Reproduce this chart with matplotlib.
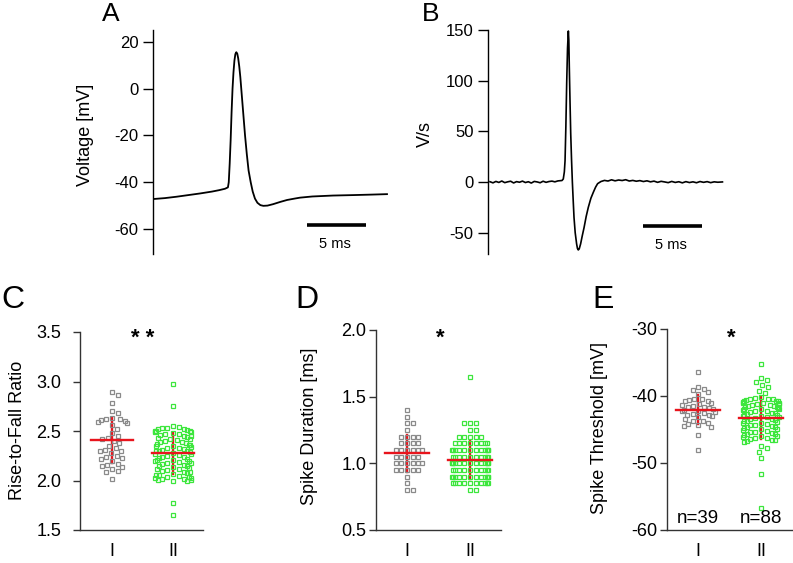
import numpy as np
import matplotlib
matplotlib.use("Agg")
import matplotlib.pyplot as plt

plt.rcParams['font.family'] = ['Liberation Sans', 'DejaVu Sans']
plt.rcParams['axes.unicode_minus'] = False

# panel A: membrane voltage trace (time in ms, voltage in mV)
a_time = [0.0, 1.0, 2.0, 3.0, 4.0, 5.0, 5.6, 6.1, 6.35, 6.42, 6.5, 6.58, 6.66, 6.74,
          6.82, 6.9, 6.98, 7.06, 7.14, 7.22, 7.31, 7.4, 7.48, 7.64, 7.8, 7.95, 8.1,
          8.28, 8.45, 8.64, 8.85, 9.1, 9.35, 9.7, 10.17, 10.8, 11.36, 12.0, 12.46,
          13.5, 15.25, 17.0, 18.5, 19.83]
a_volt = [-47.2, -46.8, -46.2, -45.5, -44.8, -44.0, -43.4, -42.8, -42.2, -40.0, -32.0,
          -22.0, -10.0, 0.0, 7.0, 12.0, 14.8, 15.6, 15.0, 13.0, 9.5, 5.0, 0.0, -10.0,
          -20.0, -28.0, -35.0, -40.0, -44.0, -47.0, -48.8, -49.8, -50.1, -50.0, -49.4,
          -48.4, -47.6, -47.0, -46.6, -46.1, -45.7, -45.5, -45.3, -45.1]

# panel B: dV/dt trace (time in ms, V/s)
b_time = [0.0, 0.25, 0.5, 0.75, 1.0, 1.25, 1.5, 1.75, 2.0, 2.25, 2.5, 2.75, 3.0, 3.25,
          3.5, 3.75, 4.0, 4.25, 4.5, 4.75, 5.0, 5.25, 5.5, 5.75, 6.0, 6.1, 6.21, 6.3,
          6.36, 6.43, 6.5, 6.57, 6.64, 6.68, 6.72, 6.78, 6.84, 6.91, 6.98, 7.05, 7.12,
          7.22, 7.34, 7.41, 7.48, 7.56, 7.68, 7.82, 7.97, 8.15, 8.33, 8.55, 8.76, 8.95,
          9.12, 9.4, 9.7, 10.0, 10.3, 10.6, 10.9, 11.2, 11.5, 11.8, 12.1, 12.4, 12.7,
          13.0, 13.3, 13.6, 13.9, 14.2, 14.5, 14.8, 15.1, 15.4, 15.7, 16.0, 16.3, 16.6,
          16.9, 17.2, 17.5, 17.8, 18.1, 18.4, 18.7, 19.0, 19.3, 19.7]
b_dvdt = [0.3, -0.8, 0.6, -0.4, 1.0, -0.6, 0.2, 0.8, -0.9, 0.4, -0.2, 0.9, -0.5, 0.3,
          -1.0, 0.6, 0.1, -0.7, 0.8, -0.3, 0.5, 0.9, 0.2, 1.1, 1.4, 1.5, 3.0, 10.0,
          21.0, 55.0, 98.0, 132.0, 149.0, 140.0, 114.0, 80.0, 48.0, 22.0, 0.0, -18.0,
          -35.0, -50.0, -61.0, -65.5, -67.0, -66.0, -61.0, -53.0, -45.0, -34.0, -25.0,
          -16.0, -10.0, -5.0, -1.6, 0.5, 1.6, 1.0, 2.2, 1.2, 2.0, 1.5, 2.3, 1.0, 1.6,
          0.8, 1.4, 0.5, 1.2, 0.2, 0.9, -0.3, 0.7, 0.1, -0.6, 0.6, -0.4, 0.3, -0.8, 0.4,
          -0.5, 0.2, -0.7, 0.5, -0.3, 0.4, -0.6, 0.2, -0.2, 0.1]

groups = ['I', 'II']

# panel C: rise-to-fall ratio
c_type1 = [2.89, 2.86, 2.78, 2.70, 2.68, 2.63, 2.62, 2.62, 2.61, 2.60, 2.59, 2.58, 2.56,
           2.52, 2.48, 2.45, 2.43, 2.42, 2.40, 2.38, 2.35, 2.33, 2.31, 2.30, 2.30, 2.28,
           2.25, 2.24, 2.23, 2.22, 2.20, 2.17, 2.16, 2.15, 2.14, 2.12, 2.10, 2.09, 2.02]
c_type2 = [2.97, 2.75, 1.77, 1.65,
           2.55, 2.54, 2.53, 2.53, 2.52, 2.52, 2.51, 2.50, 2.50,
           2.49, 2.49, 2.48, 2.47, 2.47, 2.46, 2.45, 2.45, 2.44, 2.43,
           2.42, 2.42, 2.41, 2.40, 2.39, 2.39, 2.38, 2.37, 2.36, 2.36,
           2.35, 2.34, 2.33, 2.33, 2.32, 2.31, 2.30, 2.30, 2.29, 2.28,
           2.27, 2.27, 2.26, 2.25, 2.24, 2.24, 2.23, 2.22, 2.21, 2.21,
           2.20, 2.19, 2.18, 2.18, 2.17, 2.16, 2.15, 2.15, 2.14, 2.13,
           2.12, 2.12, 2.11, 2.10, 2.09, 2.09, 2.08, 2.07, 2.06, 2.06,
           2.05, 2.04, 2.03, 2.03, 2.02, 2.02, 2.01, 2.01, 2.00, 2.00,
           2.04, 2.20, 2.35, 2.50, 2.30]

# panel D: spike duration (binned at 0.05 ms), value -> count
d_bins1 = {1.40: 1, 1.35: 1, 1.30: 2, 1.25: 1, 1.20: 4, 1.15: 4, 1.10: 6, 1.05: 5,
           1.00: 6, 0.95: 5, 0.90: 1, 0.85: 1, 0.80: 2}
d_bins2 = {1.65: 1, 1.30: 3, 1.25: 2, 1.20: 5, 1.15: 8, 1.10: 12, 1.05: 10, 1.00: 13,
           0.95: 10, 0.90: 12, 0.85: 10, 0.80: 2}
d_type1 = [v for v, n in d_bins1.items() for _ in range(n)]
d_type2 = [v for v, n in d_bins2.items() for _ in range(n)]

# panel E: spike threshold
e_type1 = [-36.4, -38.6, -38.9, -39.1, -39.4, -39.7, -40.4, -40.5, -40.6, -40.7, -40.8,
           -41.0, -41.2, -41.3, -41.5, -41.6, -41.7, -41.8, -42.0, -42.1, -42.2, -42.3,
           -42.4, -42.6, -42.7, -42.8, -42.9, -43.0, -43.2, -43.5, -43.7, -43.8, -44.0,
           -44.2, -44.3, -44.5, -44.6, -45.8, -48.0]
e_type2 = [-35.2, -37.3, -37.6, -37.9, -38.3, -38.6, -39.2, -39.5,
           -47.4, -47.8, -48.3, -49.3, -51.7, -56.7,
           -40.2, -40.3, -40.4, -40.4, -40.5, -40.6, -40.7, -40.7, -40.8, -40.9,
           -41.0, -41.1, -41.2, -41.2, -41.3, -41.4, -41.5, -41.5, -41.6, -41.7,
           -41.8, -41.9, -42.0, -42.0, -42.1, -42.2, -42.3, -42.4, -42.5, -42.6,
           -42.7, -42.8, -42.9, -43.0, -43.1, -43.2, -43.3, -43.4, -43.5, -43.6,
           -43.7, -43.8, -43.9, -44.0, -44.1, -44.2, -44.3, -44.4, -44.5, -44.6,
           -44.7, -44.8, -44.9, -45.0, -45.1, -45.2, -45.3, -45.4, -45.5, -45.6,
           -45.7, -45.8, -45.9, -46.0, -46.1, -46.2, -46.3, -46.4, -46.5, -46.6,
           -46.7, -46.8, -41.0, -43.0]
n_labels = ['n=39', 'n=88']

W, H = 793, 563
GRAY = '#8a8a8a'
GREEN = '#3ce63c'
RED = '#e8141c'
AXC = '#333333'

fig = plt.figure(figsize=(W / 100, H / 100), dpi=100)


def px_axes(l, t, r, b):
    return fig.add_axes([l / W, 1 - b / H, (r - l) / W, (b - t) / H])


def ftext(x, y, s, **kw):
    fig.text(x / W, 1 - y / H, s, **kw)


def swarm(vals, unit_px, d=6.5, half=19.0):
    # simple beeswarm in pixel space, offsets squashed to a max half width
    y = np.asarray(vals, float) * unit_px
    xs = np.zeros(len(y))
    done = []
    for i in np.argsort(-y, kind='stable'):
        cands = [0.0]
        for j in done:
            dy = y[i] - y[j]
            if abs(dy) < d:
                dx = np.sqrt(d * d - dy * dy)
                cands += [xs[j] + dx, xs[j] - dx]
        cands.sort(key=abs)
        for c in cands:
            if all((c - xs[j]) ** 2 + (y[i] - y[j]) ** 2 >= d * d - 1e-6 for j in done):
                xs[i] = c
                break
        done.append(i)
    return half * np.tanh(xs / half)


# ---- A ----
axA = px_axes(153, 30, 392, 254)
axA.plot(a_time, a_volt, color='black', lw=1.3)
axA.set_xlim(0, (392 - 153) / 11.8)
axA.set_ylim(-70.7, 25.1)
axA.set_yticks([-60, -40, -20, 0, 20])
axA.plot([13.05, 18.05], [-58.3, -58.3], color='black', lw=2.6, solid_capstyle='butt')
axA.text(15.4, -66.4, '5 ms', ha='center', va='center', fontsize=10.5)
ftext(85, 135, 'Voltage [mV]', rotation=90, ha='center', va='center', fontsize=13)

# ---- B ----
axB = px_axes(488, 30, 727, 254)
axB.plot(b_time, b_dvdt, color='black', lw=1.2)
axB.set_xlim(-2 / 11.8, (727 - 490) / 11.8)
axB.set_ylim(-71, 150)
axB.set_yticks([-50, 0, 50, 100, 150])
axB.plot([12.97, 17.97], [-43.5, -43.5], color='black', lw=2.6, solid_capstyle='butt')
axB.text(15.35, -62.3, '5 ms', ha='center', va='center', fontsize=10.5)
ftext(425, 134, 'V/s', rotation=90, ha='center', va='center', fontsize=13)

for ax in (axA, axB):
    for s in ('top', 'right', 'bottom'):
        ax.spines[s].set_visible(False)
    ax.spines['left'].set_linewidth(1.0)
    ax.set_xticks([])
    ax.tick_params(axis='y', length=7.5, width=1.0, pad=3, labelsize=12)

# ---- C, D, E ----
specs = [
    # l, t, r, b, x of group I, spacing, ylim, yticks, fmt, data, pad, label, label x, label y
    (80, 332, 203, 530, 112, 61, (1.5, 3.5), [1.5, 2.0, 2.5, 3.0, 3.5], '{:.1f}',
     (c_type1, c_type2), 8.5, 'Rise-to-Fall Ratio', 18, 430),
    (376, 330, 501, 530, 407, 63, (0.5, 2.0), [0.5, 1.0, 1.5, 2.0], '{:.1f}',
     (d_type1, d_type2), 2.0, 'Spike Duration [ms]', 310, 426),
    (667, 329, 792, 530, 698, 63, (-60, -30), [-60, -50, -40, -30], '{:.0f}',
     (e_type1, e_type2), 2.0, 'Spike Threshold [mV]', 600, 428),
]
axes = []
for (l, t, r, b, x1, sp, ylim, yt, fmt, data, pad, lab, lx, ly) in specs:
    ax = px_axes(l, t, r, b)
    axes.append(ax)
    ax.set_xlim(1 - (x1 - l) / sp, 1 + (r - x1) / sp)
    ax.set_ylim(*ylim)
    unit_px = (b - t) / (ylim[1] - ylim[0])
    for k, (vals, col) in enumerate(zip(data, (GRAY, GREEN))):
        pos = k + 1
        xo = swarm(vals, unit_px) / sp
        ax.plot(pos + xo, vals, 's', ms=3.4, mfc='none', mec=col, mew=0.9, zorder=3)
        m = np.mean(vals)
        sd = np.std(vals, ddof=1)
        ax.plot([pos, pos], [m - sd, m + sd], color=RED, lw=1.7, zorder=2)
        ax.plot([pos - 0.35, pos + 0.35], [m, m], color=RED, lw=1.7, zorder=4)
    ax.set_yticks(yt)
    ax.set_yticklabels([fmt.format(v) for v in yt])
    ax.set_xticks([1, 2])
    ax.set_xticklabels(groups)
    for s in ('top', 'right'):
        ax.spines[s].set_visible(False)
    for s in ('left', 'bottom'):
        ax.spines[s].set_color(AXC)
        ax.spines[s].set_linewidth(1.0)
    ax.tick_params(axis='y', length=5, width=1.0, color=AXC, pad=pad, labelsize=13)
    ax.tick_params(axis='x', length=0, pad=9, labelsize=13)
    ftext(lx, ly, lab, rotation=90, ha='center', va='center', fontsize=13)

ftext(143, 338, '* *', ha='center', va='center', fontsize=16, fontweight='bold')
ftext(440, 338, '*', ha='center', va='center', fontsize=16, fontweight='bold')
ftext(731, 338, '*', ha='center', va='center', fontsize=16, fontweight='bold')
for k, s in enumerate(n_labels):
    axes[2].text(k + 1, -58.3, s, ha='center', va='center', fontsize=13.5)

# panel letters
ftext(111, 14, 'A', ha='center', va='center', fontsize=19)
ftext(431, 14, 'B', ha='center', va='center', fontsize=19)
ftext(13, 300, 'C', ha='center', va='center', fontsize=23)
ftext(307, 300, 'D', ha='center', va='center', fontsize=23)
ftext(603, 300, 'E', ha='center', va='center', fontsize=23)

fig.savefig('out.png', dpi=100)
